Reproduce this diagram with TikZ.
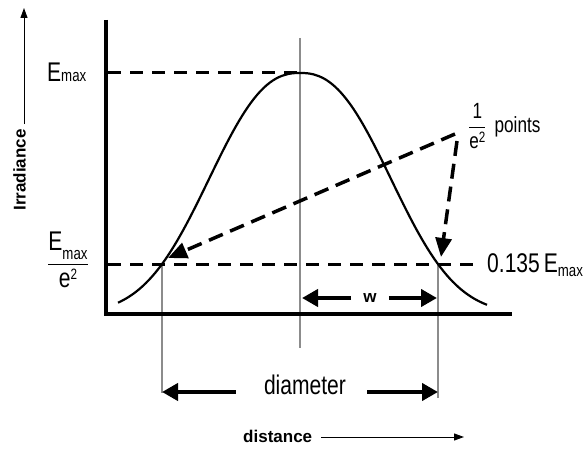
\documentclass[tikz,border=0pt]{standalone}
\usepackage{fontspec}
\setmainfont{Liberation Sans}
\newfontfamily\narrowfont[FakeStretch=0.78]{Liberation Sans}
\usetikzlibrary{arrows.meta}

\newcommand{\Emax}[1][-3pt]{E\raisebox{#1}{\fontsize{17}{17}\selectfont max}}
\newcommand{\esq}[1][7pt]{e\raisebox{#1}{\fontsize{15}{15}\selectfont 2}}
\newcommand{\lfrac}[2]{$\displaystyle{\hbox{#1}\above 1.2pt\hbox{#2}}$}

\tikzset{
  lbl/.style={font=\narrowfont\fontsize{27}{29}\selectfont, inner sep=0pt},
  smlbl/.style={font=\narrowfont\fontsize{22}{24}\selectfont, inner sep=0pt},
  boldlbl/.style={font=\bfseries\fontsize{17}{19}\selectfont, inner sep=0pt},
  axisline/.style={line width=4pt},
  level/.style={line width=3pt, dash pattern=on 13pt off 9pt},
  guide/.style={line width=1.2pt, black!45},
  bigarrow/.style={line width=4pt, -{Triangle[length=16pt,width=17pt]}},
  dasharrow/.style={line width=3.5pt, dash pattern=on 15pt off 8pt, -{Triangle[length=19pt,width=16pt]}},
  thinarrow/.style={line width=1pt, -{Triangle[length=10pt,width=7pt]}},
}

\begin{document}
\begin{tikzpicture}[x=1pt, y=-1pt]
    \useasboundingbox (0,0) rectangle (587,449);

    % 坐标点
    \coordinate (O)     at (106,314);
    \coordinate (ytop)  at (106,20);
    \coordinate (xend)  at (512,314);
    \coordinate (peak)  at (300,72.5);
    \coordinate (e2L)   at (162,264.5);
    \coordinate (e2R)   at (438,264.5);
    \coordinate (lvend) at (478,264.5);
    \coordinate (corner) at (455,134);
    \coordinate (tipL)  at (168,258);
    \coordinate (tipR)  at (441,257);
    \coordinate (ctop)  at (300,38);
    \coordinate (cbot)  at (300,348);
    \coordinate (dL)    at (162,392);
    \coordinate (dR)    at (438,392);
    \coordinate (wL)    at (302,298);
    \coordinate (wR)    at (437,298);

    % 灰色竖线
    \draw[guide] (ctop) -- (cbot);
    \draw[guide] (e2L) -- ([yshift=-1pt]dL);
    \draw[guide] (e2R) -- ([yshift=-6pt]dR);

    % 水平虚线
    \draw[level] ([xshift=2pt]O |- peak) -- (peak);
    \draw[level] ([xshift=2pt]O |- e2L) -- (lvend);

    % 高斯曲线
    \draw[line width=2.2pt, line join=round]
        plot[domain=-182:187, samples=120] ({300+\x}, {314-241*exp(-1*((abs(\x)/114.2)^2.4))});

    % 坐标轴
    \draw[axisline] (ytop) -- (O) -- (xend);

    % 标签
    \node[lbl, anchor=base west] (Etop) at (47,82) {\Emax[0pt]};
    \node[lbl] (Elow) at (68,260) {\lfrac{\Emax[-9pt]}{\vphantom{E}\esq[8pt]}};
    \node[lbl, anchor=base west] (lev) at (487,273) {0.135\hspace{4pt}\Emax[-4pt]};
    \node[smlbl, anchor=west] (pts) at (468,126) {\lfrac{1}{\esq[6pt]}\hspace{8pt}points};

    % 虚线箭头
    \draw[dasharrow] (corner) -- (tipL);
    \draw[dasharrow] ([xshift=2pt, yshift=-7pt]corner) -- (tipR);

    % w 与 diameter
    \node[boldlbl] (w) at (370,298) {w};
    \draw[bigarrow] ([xshift=-12pt]w.west |- wL) -- (wL);
    \draw[bigarrow] ([xshift=12pt]w.east |- wR) -- (wR);
    \node[lbl, anchor=base] (diam) at (305,395) {diameter};
    \draw[bigarrow] ([xshift=-28pt]diam.west |- dL) -- (dL);
    \draw[bigarrow] ([xshift=21pt]diam.east |- dR) -- (dR);

    % 轴标题
    \node[boldlbl, rotate=90] (irr) at (19.5,170) {Irradiance};
    \coordinate (irrtip) at (24,8);
    \draw[thinarrow] ([yshift=5pt]irrtip |- irr.east) -- (irrtip);
    \node[boldlbl, anchor=base west] (dist) at (243,442) {distance};
    \coordinate (disttip) at (464,437);
    \draw[thinarrow] ([xshift=9pt]dist.east |- disttip) -- (disttip);
\end{tikzpicture}
\end{document}
